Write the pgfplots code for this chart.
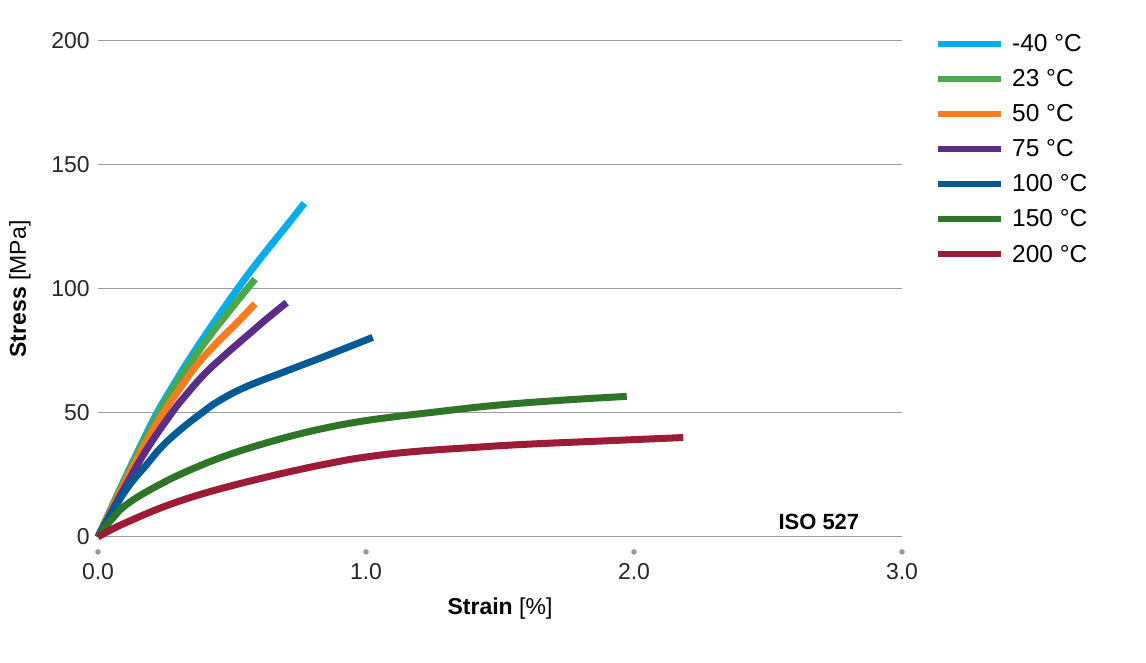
\documentclass[border=0pt]{standalone}
\usepackage{pgfplots}
\pgfplotsset{compat=1.18}
\usepackage{pgfplotstable}
\usepackage{fontspec}
\setmainfont{Liberation Sans}
\definecolor{cM40}{HTML}{00AEEF}
\definecolor{c23}{HTML}{4DA849}
\definecolor{c50}{HTML}{F37B20}
\definecolor{c75}{HTML}{5B2D86}
\definecolor{c100}{HTML}{005A96}
\definecolor{c150}{HTML}{2E7528}
\definecolor{c200}{HTML}{9E1B38}
\definecolor{gridgray}{HTML}{9A9A9A}

\pgfplotstableread{
x y
0 0
0.05 11.8
0.10 23.5
0.16 37
0.22 50
0.28 61
0.34 71.5
0.42 84.5
0.517 99.5
0.60 111.5
0.70 125
0.77 134.6
}\tM

\pgfplotstableread{
x y
0 0
0.05 11.5
0.10 23
0.16 36
0.22 48.5
0.28 59.5
0.35 71
0.42 81.5
0.50 92.5
0.586 104
}\tA

\pgfplotstableread{
x y
0 0
0.05 11
0.10 22
0.17 36.5
0.244 50
0.30 59
0.37 69.5
0.45 79
0.52 86.5
0.586 94
}\tB

\pgfplotstableread{
x y
0 0
0.05 10
0.10 20
0.18 35
0.275 50
0.33 57.5
0.40 66
0.48 74
0.56 81.5
0.63 88
0.704 94.5
}\tC

\pgfplotstableread{
x y
0 0
0.05 9.5
0.113 20.3
0.18 29
0.238 36.4
0.31 43.5
0.387 50
0.45 54.8
0.549 60.4
0.70 66.8
0.85 73
1.025 80.5
}\tD

\pgfplotstableread{
x y
0 0
0.05 7
0.113 13.6
0.238 21.6
0.362 27.9
0.486 33.1
0.611 37.4
0.735 41.1
0.859 44.2
0.98 46.6
1.1 48.4
1.226 50.0
1.475 53.0
1.724 55.1
1.973 56.7
}\tE

\pgfplotstableread{
x y
0 0
0.05 3
0.113 6.2
0.238 11.9
0.362 16.5
0.486 20.3
0.611 23.7
0.735 26.8
0.859 29.6
0.984 32.0
1.164 34.3
1.4 36.1
1.6 37.4
1.9 38.8
2.184 40.1
}\tF

\begin{document}
\begin{tikzpicture}[x=1pt,y=1pt]
\useasboundingbox (0,0) rectangle (1146,663);
\begin{axis}[
  at={(98pt,126pt)}, anchor=south west,
  scale only axis, width=804pt, height=496pt,
  xmin=0, xmax=3, ymin=0, ymax=200,
  clip=false,
  axis line style={draw=none},
  major tick length=0pt,
  xtick={0,1,2,3}, ytick={0,50,100,150,200},
  xticklabels={0.0,1.0,2.0,3.0},
  ymajorgrids,
  grid style={gridgray, line width=1pt},
  /pgf/number format/assume math mode=true,
  tick label style={font=\fontsize{23}{27}\selectfont, text=black!85},
  xticklabel style={yshift=-23pt},
  yticklabel style={xshift=-4.7pt},
  xlabel={\textbf{Strain} [\%]},
  ylabel={\textbf{Stress} [MPa]},
  label style={font=\fontsize{23}{27}\selectfont},
  xlabel style={at={(axis description cs:0.5,-0.157)}, anchor=base},
  ylabel style={at={(axis description cs:-0.0896,0.5)}, anchor=base, rotate=0},
  legend style={at={(rel axis cs:1.041,1.018)}, anchor=north west, draw=none, fill=none,
    inner sep=0pt, row sep=12.5pt, column sep=6pt, font=\fontsize{24.5}{29}\selectfont},
  legend cell align=left,
  legend image code/.code={\draw[#1, line width=6pt, line cap=butt] (0pt,0pt) -- (63pt,0pt);},
]
\addplot[cM40, line width=7pt, smooth, tension=0.7] table {\tM};
\addlegendentry{-40 °C}
\addplot[c23, line width=7pt, smooth, tension=0.7] table {\tA};
\addlegendentry{23 °C}
\addplot[c50, line width=7pt, smooth, tension=0.7] table {\tB};
\addlegendentry{50 °C}
\addplot[c75, line width=7pt, smooth, tension=0.7] table {\tC};
\addlegendentry{75 °C}
\addplot[c100, line width=7pt, smooth, tension=0.7] table {\tD};
\addlegendentry{100 °C}
\addplot[c150, line width=7pt, smooth, tension=0.7] table {\tE};
\addlegendentry{150 °C}
\addplot[c200, line width=7pt, smooth, tension=0.7] table {\tF};
\addlegendentry{200 °C}
\addplot[only marks, mark=*, mark size=2.5pt, draw=none, mark options={fill=gridgray, draw=gridgray}, forget plot] coordinates {(0,-6) (1,-6) (2,-6) (3,-6)};
\node[anchor=base west, font=\bfseries\fontsize{22}{26}\selectfont] at (axis cs:2.526,3.2) {ISO 527};
\end{axis}
\end{tikzpicture}
\end{document}
